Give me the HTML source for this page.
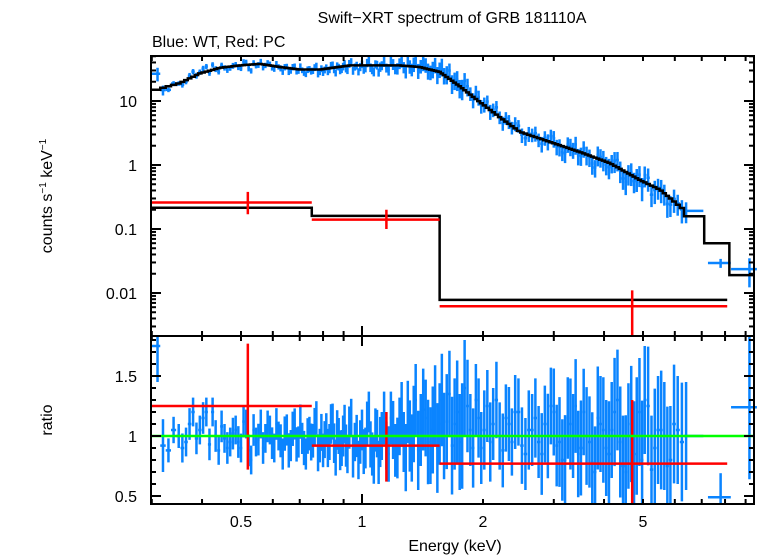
<!DOCTYPE html>
<html><head><meta charset="utf-8"><style>
html,body{margin:0;padding:0;background:#fff;}
svg{display:block;font-family:"Liberation Sans",sans-serif;}
</style></head><body>
<svg id="chart" width="758" height="556" viewBox="0 0 758 556" xmlns="http://www.w3.org/2000/svg">
<text x="452" y="23" font-size="16" text-anchor="middle">Swift−XRT spectrum of GRB 181110A</text>
<text x="152" y="47" font-size="16">Blue: WT, Red: PC</text>
<text transform="translate(52,196) rotate(-90)" font-size="16" text-anchor="middle">counts s<tspan dy="-6" font-size="10">−1</tspan><tspan dy="6"> keV</tspan><tspan dy="-6" font-size="10">−1</tspan></text>
<text transform="translate(52,420) rotate(-90)" font-size="16" text-anchor="middle">ratio</text>
<text x="455" y="551" font-size="16" text-anchor="middle">Energy (keV)</text>
<g id="marks"></g>
</svg>
<script>
const modelE=[0.30,0.305,0.352,0.395,0.443,0.497,0.557,0.625,0.70,0.786,0.934,1.11,1.24,1.39,1.56,1.75,1.91,2.2,2.47,2.93,3.48,4.14,4.92,5.52,6.2,6.74,7.1];
const modelV=[13,14.8,19,27,33,36,38,34,31,31,36,36,36,34,28.5,17,11,5.6,3.3,2.3,1.6,1.07,0.58,0.41,0.22,0.154,0.12];
const tailLo=[7.1,8.2];
const tailHi=[8.2,9.6];
const tailV=[0.06,0.019];
const blueE=[0.31,0.33,0.35,0.365,0.38,0.395,0.41,0.425,0.44,0.455,0.47,0.485,0.50,0.515,0.53,0.545,0.56,0.575,0.59,0.605,0.62,0.635,0.65,0.665,0.68,0.695,0.71,0.725,0.74,0.755,0.77,0.785,0.80,0.815,0.83,0.845,0.86,0.875,0.89,0.905,0.92,0.94,0.96,0.98,1.0,1.02,1.04,1.06,1.08,1.10,1.12,1.15,1.18,1.21,1.24,1.27,1.30,1.33,1.36,1.40,1.44,1.48,1.52,1.56,1.60,1.65,1.70,1.75,1.80,1.86,1.92,1.98,2.05,2.12,2.20,2.28,2.36,2.45,2.55,2.65,2.75,2.85,2.95,3.05,3.15,3.25,3.35,3.45,3.56,3.68,3.80,3.92,4.05,4.18,4.32,4.46,4.60,4.75,4.90,5.05,5.25,5.45,5.65,5.85,6.1,6.4,7.8,9.2];
const blueRatio=[1.75,0.88,1.0,0.95,1.2,1.05,1.2,1.2,0.88,0.98,0.95,1.05,0.9,1.1,0.8,0.95,1.1,0.98,1.05,0.9,1.0,0.85,1.05,0.92,1.1,0.95,0.98,0.85,1.02,0.96,1.15,0.92,0.88,1.05,0.95,1.12,0.82,1.0,0.9,1.1,0.85,1.15,0.95,0.8,1.05,0.9,1.2,0.85,1.05,0.78,1.0,0.92,1.15,0.88,1.08,0.95,1.2,0.9,1.3,1.05,1.15,0.92,1.25,1.1,1.0,1.35,1.1,0.95,1.4,1.05,1.3,0.9,1.25,1.1,1.0,1.15,0.95,1.2,0.85,1.05,0.95,1.1,1.25,0.92,0.8,1.15,1.0,0.85,1.2,0.95,0.7,1.1,0.9,1.05,1.3,0.75,1.0,0.85,1.2,1.3,0.72,1.05,1.0,0.8,1.05,1.0,0.49,1.24];
const blueErr=[0.3,0.1,0.1,0.12,0.12,0.12,0.12,0.12,0.12,0.12,0.12,0.12,0.12,0.12,0.12,0.12,0.12,0.12,0.12,0.12,0.12,0.13,0.13,0.13,0.13,0.13,0.13,0.13,0.14,0.14,0.14,0.14,0.14,0.14,0.15,0.15,0.15,0.15,0.15,0.16,0.16,0.16,0.16,0.16,0.17,0.17,0.17,0.18,0.18,0.18,0.2,0.2,0.22,0.22,0.24,0.25,0.26,0.28,0.3,0.3,0.32,0.32,0.34,0.34,0.36,0.36,0.38,0.4,0.4,0.3,0.3,0.3,0.3,0.3,0.28,0.28,0.28,0.28,0.3,0.3,0.3,0.32,0.32,0.34,0.34,0.34,0.35,0.36,0.36,0.38,0.38,0.4,0.4,0.4,0.42,0.42,0.44,0.44,0.45,0.45,0.45,0.45,0.45,0.45,0.45,0.45,0.2,0.6];
const blueRatioMid=[0.92,1.05,0.9,1.1,0.98,1.15,0.93,1.0,1.08,0.9,1.02,0.95,1.12,0.88,1.05,0.97,0.9,1.08,0.94,1.1,0.96,1.02,0.88,1.06,0.93,1.12,0.9,1.0,0.95,1.08,0.86,1.03,0.97,0.9,1.1,0.94,1.05,0.88,1.0,0.92,1.07,0.83,1.0,0.95,0.87,1.1,0.93,0.8,1.02,0.95,1.15,0.85,1.05,0.9,1.18,0.82,1.0,1.1,0.88,1.22,0.95,1.05,0.9,1.3,1.12,0.92,1.2,1.0,1.25,0.9,1.15,1.05,0.95,1.3,0.88,1.1,1.2,0.92,1.05,1.15,0.85,1.0,1.2,0.95,0.8,1.1,1.25,0.9,1.0,0.78,1.15,1.05,0.85,1.2,0.95,0.7,1.1,1.0,0.8,1.25,0.9,1.05,0.75,1.1,0.95];
const redLo=[0.30,0.75,1.56];
const redHi=[0.75,1.56,8.1];
const redE=[0.52,1.15,4.7];
const redV=[0.26,0.14,0.0062];
const redVLo=[0.17,0.1,0.001];
const redVHi=[0.38,0.2,0.011];
const redModel=[0.215,0.16,0.0078];
const redRatio=[1.25,0.92,0.77];
const redRLo=[0.72,0.62,0.3];
const redRHi=[1.77,1.2,1.3];
const xTickLabels=[0.5,1,2,5];
const topTickLabels=[0.01,0.1,1,10];
const botTickLabels=[0.5,1,1.5];

const L=151,R=754,T=56,M=336,B=504;
const BLUE='#0a84ff';
const X=e=>362+402*Math.log10(e);
const YT=v=>Math.min(M,Math.max(T,165-64*Math.log10(v)));
const YB=r=>Math.min(B,Math.max(M,436-120*(r-1)));
const NS="http://www.w3.org/2000/svg";
const g=document.getElementById('marks');
function add(tag,attrs,parent){const el=document.createElementNS(NS,tag);for(const k in attrs)el.setAttribute(k,attrs[k]);(parent||g).appendChild(el);return el;}
function line(x1,y1,x2,y2,c,w,parent){return add('line',{x1,y1,x2,y2,stroke:c,'stroke-width':w},parent);}
function interp(e){
  for(let i=0;i<tailLo.length;i++){if(e>=tailLo[i]&&e<=tailHi[i])return tailV[i];}
  if(e<=modelE[0])return modelV[0];
  for(let i=0;i<modelE.length-1;i++){if(e>=modelE[i]&&e<=modelE[i+1]){const t=(Math.log(e)-Math.log(modelE[i]))/(Math.log(modelE[i+1])-Math.log(modelE[i]));return Math.exp(Math.log(modelV[i])*(1-t)+Math.log(modelV[i+1])*t);}}
  return modelV[modelV.length-1];}

// build blue point list (main + midpoints)
const pts=[];
const n=Math.min(blueE.length,blueRatio.length,blueErr.length);
for(let i=0;i<n;i++)pts.push({e:blueE[i],r:blueRatio[i],er:blueErr[i]});
for(let i=0;i<Math.min(blueRatioMid.length,n-3);i++){pts.push({e:Math.sqrt(blueE[i]*blueE[i+1]),r:blueRatioMid[i],er:(blueErr[i]+blueErr[i+1])/2*1.1});}
pts.sort((a,b)=>a.e-b.e);

const blueG=add('g',{});


const edges=[];
for(let i=0;i<pts.length;i++){
  const e=pts[i].e;
  let lo=i>0?Math.sqrt(e*pts[i-1].e):0.3, hi=i<pts.length-1?Math.sqrt(e*pts[i+1].e):9.6;
  if(e>7){lo=e*0.93;hi=e*1.06;}
  if(e>8.5){lo=e*0.9;hi=9.6;}
  const r=pts[i].r,er=pts[i].er,v=interp(e)*r;
  const p=add('g',{},blueG);
  
  
  line(X(lo),YT(v),X(hi),YT(v),BLUE,2.5,p);
  line(X(e),YT(v*(1+er*0.8)),X(e),YT(Math.max(v*(1-er*0.8),1e-4)),BLUE,2.5,p);
  line(X(lo),YB(r),X(hi),YB(r),BLUE,2.5,p);
  line(X(e),YB(r+er),X(e),YB(r-er),BLUE,2.5,p);
  if(e<7)edges.push(lo);
}
// model WT fine step line
edges.push(7.1);
let d='';
for(let i=0;i<edges.length-1;i++){const a=Math.max(edges[i],0.3),b=edges[i+1];const y=YT(interp(Math.sqrt(a*b)));d+=(i===0?'M':'L')+X(a)+','+y+' L'+X(b)+','+y+' ';}
for(let i=0;i<tailLo.length;i++){const y=YT(tailV[i]);d+='L'+X(tailLo[i])+','+y+' L'+Math.min(R,X(tailHi[i]))+','+y+' ';}
const mw=add('path',{d,fill:'none',stroke:'#000','stroke-width':2.5});


// red model
let dr='';
for(let i=0;i<redLo.length;i++){dr+=(i===0?'M':'L')+X(redLo[i])+','+YT(redModel[i])+' L'+X(redHi[i])+','+YT(redModel[i])+' ';}
const mr=add('path',{d:dr,fill:'none',stroke:'#000','stroke-width':2.5});


// red points
for(let i=0;i<redE.length;i++){
  const p=add('g',{});
  
  
  line(X(redLo[i]),YT(redV[i]),X(redHi[i]),YT(redV[i]),'#ff0000',2.5,p);
  line(X(redE[i]),YT(redVHi[i]),X(redE[i]),YT(redVLo[i]),'#ff0000',2.5,p);
  line(X(redLo[i]),YB(redRatio[i]),X(redHi[i]),YB(redRatio[i]),'#ff0000',2.5,p);
  line(X(redE[i]),YB(redRHi[i]),X(redE[i]),YB(redRLo[i]),'#ff0000',2.5,p);
}
// unity line
const u=line(L,YB(1),R,YB(1),'#00ff00',2.5);


// frames
[[T,M,'top-panel-frame'],[M,B,'bottom-panel-frame']].forEach(f=>{const r=add('rect',{x:L,y:f[0],width:R-L,height:f[1]-f[0],fill:'none',stroke:'#000','stroke-width':2});

});
// x ticks
const xt=[0.3,0.4,0.5,0.6,0.7,0.8,0.9,1,2,3,4,5,6,7,8,9];
xt.forEach(e=>{const x=X(e);if(x<L||x>R)return;const len=(e===1)?10:5;
line(x,T,x,T+len,'#000',2);line(x,M,x,M-len,'#000',2);line(x,M,x,M+len,'#000',2);line(x,B,x,B-len,'#000',2);});
xTickLabels.forEach(e=>{const t=add('text',{x:X(e),y:527,'font-size':16,'text-anchor':'middle'});t.textContent=String(e);

});
// top y ticks
for(let dec=-3;dec<=1;dec++){for(let k=1;k<=9;k++){const v=k*Math.pow(10,dec);const y=165-64*Math.log10(v);if(y<T||y>M)continue;const len=k===1?10:5;line(L,y,L+len,y,'#000',2);line(R,y,R-len,y,'#000',2);}}
topTickLabels.forEach(v=>{const t=add('text',{x:137,y:165-64*Math.log10(v)+6,'font-size':16,'text-anchor':'end'});t.textContent=String(v);

});
// bottom y ticks
for(let r=0.5;r<=1.81;r+=0.1){const y=436-120*(r-1);const big=Math.abs(r*2-Math.round(r*2))<0.01;const len=big?10:5;line(L,y,L+len,y,'#000',2);line(R,y,R-len,y,'#000',2);}
botTickLabels.forEach(v=>{const t=add('text',{x:137,y:436-120*(v-1)+6,'font-size':16,'text-anchor':'end'});t.textContent=String(v);

});
</script>
</body></html>
